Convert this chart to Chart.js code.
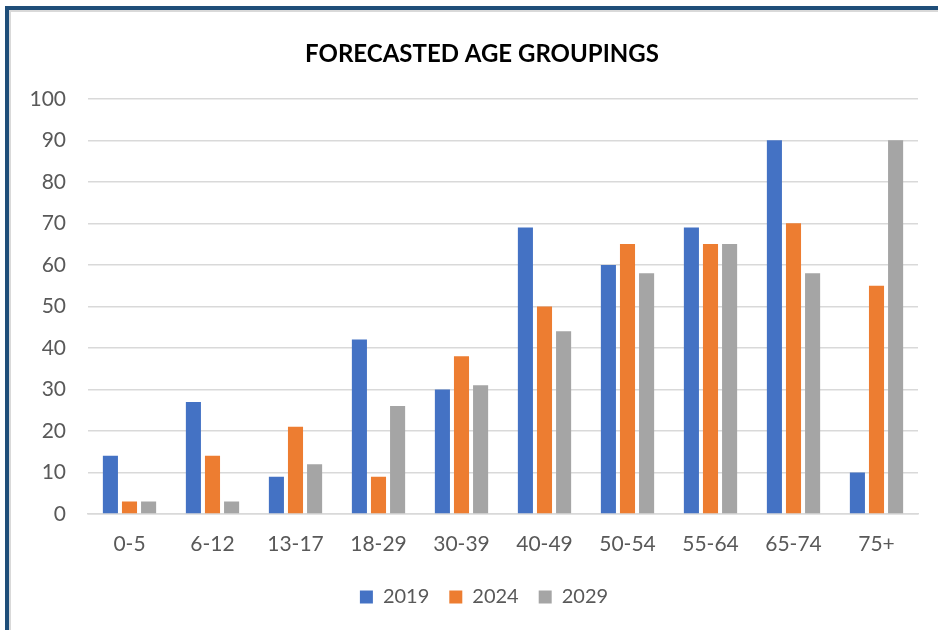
<!DOCTYPE html>
<html>
<head>
<meta charset="utf-8">
<script src="https://cdn.jsdelivr.net/npm/chart.js"></script>
<style>
  html, body { margin: 0; padding: 0; background: #fff; }
  body { width: 938px; height: 630px; position: relative; overflow: hidden; }
  /* document frame around the chart */
  .frame { position: absolute; left: 5px; top: 6px; right: 0; bottom: 0;
           border-left: 4px solid #1f4e79; border-top: 4px solid #1f4e79; }
  .frame-in { position: absolute; left: 0; top: 0; right: 0; bottom: 0;
              border-left: 2px solid #d9d9d9; border-top: 2px solid #d9d9d9; }
  #wrap { position: absolute; left: 0; top: 0; width: 938px; height: 630px; }
</style>
</head>
<body>
<div class="frame"><div class="frame-in"></div></div>
<div id="wrap"><canvas id="c"></canvas></div>
<script>
// age groups on the x axis
var ageGroups = ['0-5', '6-12', '13-17', '18-29', '30-39', '40-49', '50-54', '55-64', '65-74', '75+'];
// series values, one per year
var y2019 = [14, 27, 9, 42, 30, 69, 60, 69, 90, 10];
var y2024 = [3, 14, 21, 9, 38, 50, 65, 65, 70, 55];
var y2029 = [3, 3, 12, 26, 31, 44, 58, 65, 58, 90];
var seriesNames = ['2019', '2024', '2029'];
var yTicks = [0, 10, 20, 30, 40, 50, 60, 70, 80, 90, 100];

var font = "Lato, 'Open Sans', sans-serif";
var colors = ['#4472c4', '#ed7d31', '#a5a5a5'];
var grid = '#d9d9d9';
var tickColor = '#595959';

function ds(i, data) {
  return {
    label: seriesNames[i], data: data, backgroundColor: colors[i],
    borderWidth: 0, barPercentage: 0.79, categoryPercentage: 0.69
  };
}

// Excel centres title + legend a bit right of the canvas centre; nudge the boxes
var shiftBoxes = {
  id: 'shiftBoxes',
  afterLayout: function (chart) {
    if (chart.legend) chart.legend.left = 50;
    if (chart.titleBlock) chart.titleBlock.left = 46;
  }
};

new Chart(document.getElementById('c'), {
  type: 'bar',
  data: { labels: ageGroups, datasets: [ds(0, y2019), ds(1, y2024), ds(2, y2029)] },
  plugins: [shiftBoxes],
  options: {
    responsive: true, maintainAspectRatio: false, animation: false,
    layout: { padding: { left: 0, right: 20, top: 0, bottom: 13 } },
    plugins: {
      title: {
        display: true, text: 'FORECASTED AGE GROUPINGS', color: '#000',
        font: { family: font, size: 24, weight: 'bold' },
        padding: { top: 40, bottom: 30 }
      },
      legend: {
        position: 'bottom',
        labels: {
          color: tickColor, font: { family: font, size: 20 },
          boxWidth: 13, boxHeight: 13, padding: 20
        }
      },
      tooltip: { enabled: false }
    },
    scales: {
      x: {
        afterFit: function (s) { s.height = 53; },
        grid: { display: false, drawTicks: false },
        border: { color: grid, width: 1.5 },
        ticks: { color: tickColor, font: { family: font, size: 21 }, padding: 18, maxRotation: 0 }
      },
      y: {
        min: 0, max: 100,
        afterFit: function (s) { s.width = 88; },
        afterBuildTicks: function (s) { s.ticks = yTicks.map(function (v) { return { value: v }; }); },
        grid: { color: grid, lineWidth: 1.5, drawTicks: false },
        border: { display: false },
        ticks: { color: tickColor, font: { family: font, size: 21 }, padding: 22 }
      }
    }
  }
});
</script>
</body>
</html>
